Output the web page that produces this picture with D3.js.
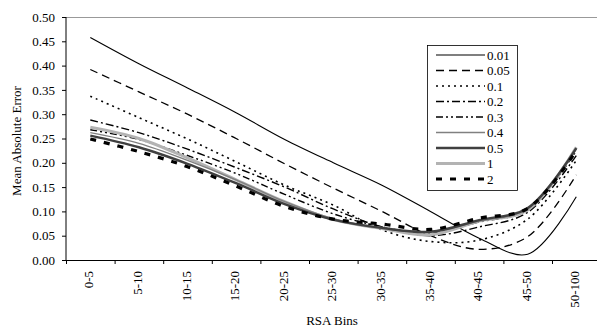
<!DOCTYPE html>
<html>
<head>
<meta charset="utf-8">
<script src="https://cdn.jsdelivr.net/npm/d3@7"></script>
<style>
  body { margin: 0; background: #fff; }
  svg { display: block; font-family: "Liberation Serif", "Times New Roman", serif; }
</style>
</head>
<body>
<svg id="chart" width="597" height="329"></svg>
<script>
// categories (RSA bins)
let bins = ["0-5", "5-10", "10-15", "15-20", "20-25", "25-30", "30-35", "35-40", "40-45", "45-50", "50-100"];
let yTicks = [0, 0.05, 0.1, 0.15, 0.2, 0.25, 0.3, 0.35, 0.4, 0.45, 0.5];

// one array per series
let s001 = [0.458, 0.404, 0.354, 0.303, 0.248, 0.200, 0.154, 0.100, 0.045, 0.012, 0.130];
let s005 = [0.392, 0.346, 0.300, 0.250, 0.198, 0.148, 0.100, 0.050, 0.022, 0.048, 0.175];
let s01  = [0.337, 0.293, 0.249, 0.202, 0.154, 0.113, 0.062, 0.038, 0.041, 0.084, 0.205];
let s02  = [0.288, 0.262, 0.228, 0.190, 0.150, 0.105, 0.068, 0.050, 0.068, 0.098, 0.215];
let s03  = [0.268, 0.248, 0.215, 0.178, 0.135, 0.095, 0.068, 0.055, 0.078, 0.103, 0.225];
let s04  = [0.262, 0.240, 0.205, 0.165, 0.120, 0.085, 0.065, 0.058, 0.080, 0.105, 0.228];
let s05  = [0.256, 0.232, 0.198, 0.158, 0.115, 0.083, 0.066, 0.058, 0.082, 0.107, 0.230];
let s1   = [0.273, 0.250, 0.210, 0.165, 0.120, 0.083, 0.065, 0.052, 0.080, 0.103, 0.232];
let s2   = [0.249, 0.223, 0.192, 0.152, 0.110, 0.084, 0.074, 0.063, 0.086, 0.106, 0.225];

let seriesNames = ["0.01", "0.05", "0.1", "0.2", "0.3", "0.4", "0.5", "1", "2"];
let seriesValues = [s001, s005, s01, s02, s03, s04, s05, s1, s2];

// line look for each series (same order as names)
let styles = [
  { color: "#000", width: 1.1, dash: null },
  { color: "#000", width: 1.3, dash: "8,5" },
  { color: "#000", width: 1.6, dash: "2,4" },
  { color: "#000", width: 1.4, dash: "8,3,2,3" },
  { color: "#000", width: 1.4, dash: "7,3,2,3,2,3" },
  { color: "#808080", width: 1.4, dash: null },
  { color: "#404040", width: 2.4, dash: null },
  { color: "#b3b3b3", width: 3, dash: null },
  { color: "#000", width: 3.2, dash: "6,8" }
];

let fontSize = "13px";
let svg = d3.select("#chart");
let mLeft = 66, mTop = 17, mBottom = 260, mRight = 600.6;

let x = d3.scaleBand().domain(bins).range([mLeft, mRight]).padding(0);
let y = d3.scaleLinear().domain([0, 0.5]).range([mBottom, mTop]);
let cx = function(d) { return x(d) + x.bandwidth() / 2; };

// top border of plot area
svg.append("line")
  .attr("x1", mLeft).attr("x2", 597)
  .attr("y1", mTop + 0.5).attr("y2", mTop + 0.5)
  .attr("stroke", "#999").attr("stroke-width", 1);

// series lines
let line = d3.line()
  .x(function(d, i) { return cx(bins[i]); })
  .y(function(d) { return y(d); })
  .curve(d3.curveCatmullRom.alpha(0.5));

let order = [0, 1, 2, 3, 4, 7, 5, 6, 8];
order.forEach(function(k) {
  svg.append("path")
    .attr("d", line(seriesValues[k]))
    .attr("fill", "none")
    .attr("stroke", styles[k].color)
    .attr("stroke-width", styles[k].width)
    .attr("stroke-dasharray", styles[k].dash);
});

// y axis
let yAxis = d3.axisLeft(y)
  .tickValues(yTicks)
  .tickSize(4)
  .tickFormat(d3.format(".2f"));
let gy = svg.append("g")
  .attr("transform", "translate(" + mLeft + ",0)")
  .call(yAxis);
gy.select(".domain").attr("d", "M0," + mTop + "V" + mBottom);
gy.selectAll("text")
  .attr("font-size", fontSize)
  .attr("font-family", "Liberation Serif")
  .attr("fill", "#000")
  .attr("dx", "-4");

// x axis: ticks on the bin boundaries
svg.append("line")
  .attr("x1", mLeft).attr("x2", 597)
  .attr("y1", mBottom + 0.5).attr("y2", mBottom + 0.5)
  .attr("stroke", "#000");
svg.selectAll(".xtick")
  .data(bins)
  .enter()
  .append("line")
  .attr("class", "xtick")
  .attr("x1", function(d) { return x(d) + 0.5; })
  .attr("x2", function(d) { return x(d) + 0.5; })
  .attr("y1", mBottom)
  .attr("y2", mBottom + 4)
  .attr("stroke", "#000");

svg.selectAll(".xlabel")
  .data(bins)
  .enter()
  .append("text")
  .attr("class", "xlabel")
  .attr("transform", function(d) { return "translate(" + (cx(d) + 3) + ",271) rotate(-90)"; })
  .attr("text-anchor", "end")
  .attr("font-size", fontSize)
  .text(function(d) { return d; });

// axis titles
svg.append("text")
  .attr("transform", "translate(21,141) rotate(-90)")
  .attr("text-anchor", "middle")
  .attr("font-size", fontSize)
  .text("Mean Absolute Error");

svg.append("text")
  .attr("x", 332)
  .attr("y", 325)
  .attr("text-anchor", "middle")
  .attr("font-size", fontSize)
  .text("RSA Bins");

// legend
let lg = svg.append("g");
lg.append("rect")
  .attr("x", 427.5).attr("y", 45.5)
  .attr("width", 90).attr("height", 145)
  .attr("fill", "#fff")
  .attr("stroke", "#000")
  .attr("stroke-width", 0.8);

seriesNames.forEach(function(name, i) {
  let ly = 55 + i * 15.5;
  lg.append("line")
    .attr("x1", 436).attr("x2", 485)
    .attr("y1", ly).attr("y2", ly)
    .attr("stroke", styles[i].color)
    .attr("stroke-width", styles[i].width)
    .attr("stroke-dasharray", styles[i].dash);
  lg.append("text")
    .attr("x", 487)
    .attr("y", ly + 4.5)
    .attr("font-size", fontSize)
    .text(name);
});
</script>
</body>
</html>
